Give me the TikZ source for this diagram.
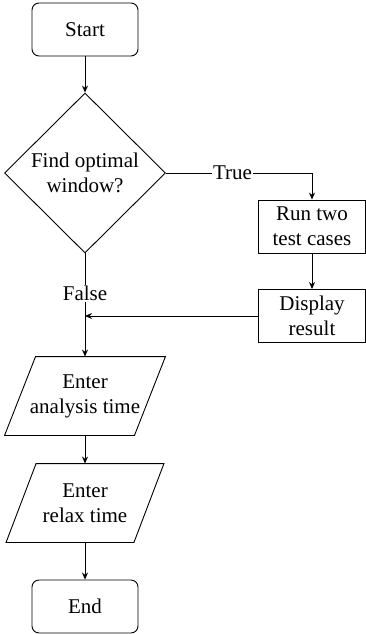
\documentclass[tikz,border=0pt]{standalone}
\usepackage{fontspec}
\setmainfont{Liberation Serif}
\usetikzlibrary{shapes.geometric,arrows.meta}
\begin{document}
\begin{tikzpicture}[x=1pt,y=-1pt,
  font=\fontsize{21}{25}\selectfont,
  line width=0.9pt,
  term/.style={draw, rounded corners=7pt, minimum width=106pt, minimum height=53pt, align=center, inner sep=0pt},
  proc/.style={draw, minimum width=107pt, minimum height=53pt, align=center, inner sep=0pt},
  dec/.style={draw, diamond, aspect=1, minimum width=161pt, minimum height=160pt, align=center, inner sep=0pt},
  io/.style={minimum width=129pt, minimum height=78pt, align=center, inner sep=0pt},
  arr/.style={-{Stealth[length=7pt,width=6pt]}},
  lbl/.style={fill=white, inner sep=1pt}]
\useasboundingbox (0,0) rectangle (366,634);

\node[term] (start) at (85,29.5) {Start};
\node[dec] (dia) at (85,173) {Find optimal\\window?};
\node[proc] (run) at (312,226.5) {Run two\\test cases};
\node[proc] (disp) at (312,316) {Display\\result};
\node[io] (p1) at (85,396) {Enter\\analysis time};
\node[io, minimum width=127pt] (p2) at (85,503) {Enter\\relax time};
\node[term] (end) at (85,606.5) {End};

\draw ([xshift=15.5pt]p1.north west) -- ([xshift=15.5pt]p1.north east) -- ([xshift=-15.5pt]p1.south east) -- ([xshift=-15.5pt]p1.south west) -- cycle;
\draw ([xshift=15pt]p2.north west) -- ([xshift=15pt]p2.north east) -- ([xshift=-15pt]p2.south east) -- ([xshift=-15pt]p2.south west) -- cycle;

\draw[arr] (start) -- (dia);
\draw[arr] (dia.east) -- node[lbl, pos=0.456] {True} (dia.east -| run.north) -- (run.north);
\draw[arr] (run) -- (disp);
\draw[arr] (disp.west) -- (disp.west -| dia.south);
\draw[arr] (dia.south) -- node[lbl, pos=0.385] {False} (p1.north);
\draw[arr] (p1.south) -- (p2.north);
\draw[arr] (p2.south) -- (end.north);
\end{tikzpicture}
\end{document}
